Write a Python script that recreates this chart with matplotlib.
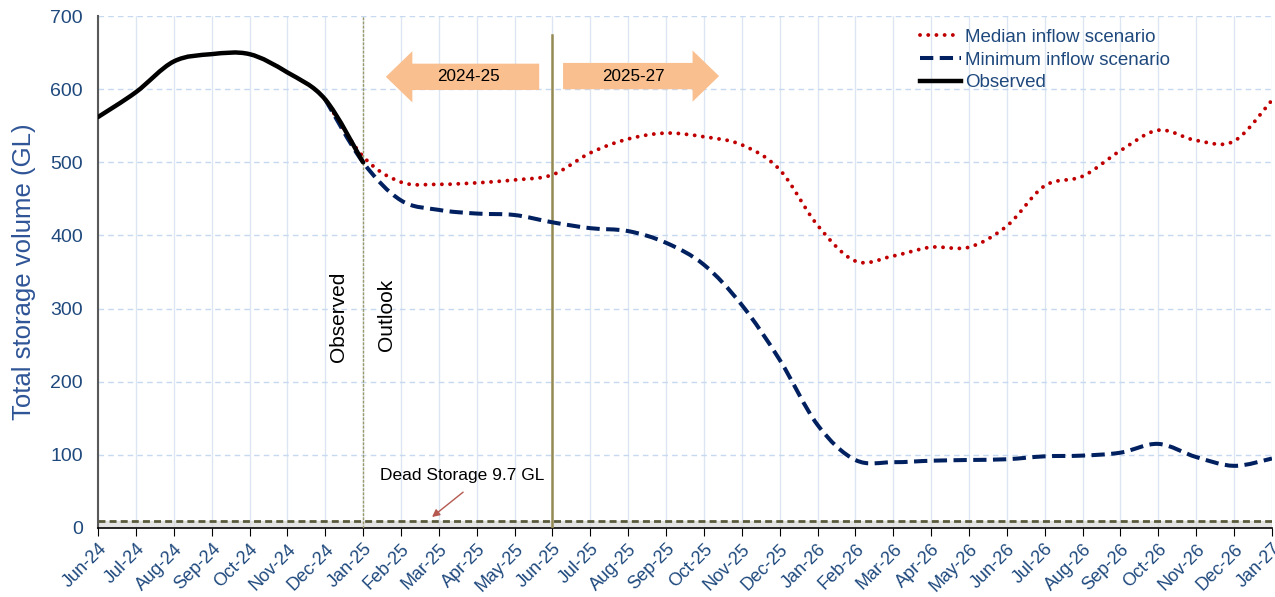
import numpy as np
import matplotlib.pyplot as plt
from matplotlib.patches import FancyArrow, PathPatch
from matplotlib.path import Path
from matplotlib.lines import Line2D

months = ['Jun-24', 'Jul-24', 'Aug-24', 'Sep-24', 'Oct-24', 'Nov-24', 'Dec-24', 'Jan-25',
          'Feb-25', 'Mar-25', 'Apr-25', 'May-25', 'Jun-25', 'Jul-25', 'Aug-25', 'Sep-25',
          'Oct-25', 'Nov-25', 'Dec-25', 'Jan-26', 'Feb-26', 'Mar-26', 'Apr-26', 'May-26',
          'Jun-26', 'Jul-26', 'Aug-26', 'Sep-26', 'Oct-26', 'Nov-26', 'Dec-26', 'Jan-27']

observed = [562, 596, 638, 648, 648, 623, 586, 500]

# outlook series start at Dec-24 (last observed month before outlook)
median = [586, 508, 473, 470, 472, 476, 483, 513, 532, 540, 535, 524, 490, 414, 365,
          372, 384, 384, 413, 468, 481, 516, 544, 530, 529, 585]
minimum = [586, 500, 448, 435, 430, 428, 418, 410, 406, 390, 360, 305, 230, 141, 93,
           90, 92, 93, 94, 98, 99, 103, 115, 97, 85, 95]

dead_storage = 9.7

label_blue = '#1F497D'
font = 'Liberation Sans'


def smooth_path(xs, ys):
    # excel style smoothed line: bezier segments through the points
    pts = np.column_stack([xs, ys]).astype(float)
    n = len(pts)
    verts = [pts[0]]
    codes = [Path.MOVETO]
    for i in range(n - 1):
        p0 = pts[i - 1] if i > 0 else pts[i]
        p1 = pts[i]
        p2 = pts[i + 1]
        p3 = pts[i + 2] if i + 2 < n else pts[i + 1]
        verts += [p1 + (p2 - p0) / 6, p2 - (p3 - p1) / 6, p2]
        codes += [Path.CURVE4] * 3
    return Path(verts, codes)


fig = plt.figure(figsize=(12.75, 5.97), dpi=100)
ax = fig.add_axes([0.0769, 0.1156, 0.9207, 0.8574])

x_all = np.arange(len(months))
x_obs = x_all[:len(observed)]
x_out = x_all[6:6 + len(median)]

ax.axhspan(0, dead_storage, color='#d9d9d9', alpha=0.7, zorder=1)
ax.axhline(dead_storage, color='#5a5a3c', linestyle=(0, (2.5, 1.5)), linewidth=2, zorder=2)

med_style = dict(color='#C00000', linestyle=(0, (0.01, 2.1)), linewidth=2.8)
min_style = dict(color='#002060', linestyle=(0, (3.3, 1.6)), linewidth=2.9)
obs_style = dict(color='black', linestyle='-', linewidth=3.2)

p = PathPatch(smooth_path(x_out, median), fill=False, zorder=4, capstyle='round',
              edgecolor=med_style['color'], linestyle=med_style['linestyle'],
              linewidth=med_style['linewidth'])
ax.add_patch(p)
p = PathPatch(smooth_path(x_out, minimum), fill=False, zorder=4, capstyle='butt',
              edgecolor=min_style['color'], linestyle=min_style['linestyle'],
              linewidth=min_style['linewidth'])
ax.add_patch(p)
p = PathPatch(smooth_path(x_obs, observed), fill=False, zorder=5, capstyle='round',
              edgecolor=obs_style['color'], linewidth=obs_style['linewidth'])
ax.add_patch(p)

ax.axvline(7, color='#9c9a6a', linestyle=(0, (2, 1)), linewidth=1, zorder=3)
ax.plot([12, 12], [0, 674], color='#948A54', linewidth=1.8, zorder=3)

ax.set_xlim(0, len(months) - 1)
ax.set_ylim(0, 700)
ax.set_xticks(x_all)
ax.set_xticklabels(months, rotation=45, ha='right', rotation_mode='anchor',
                   fontsize=13, color=label_blue, fontfamily=font)
ax.set_yticks(np.arange(0, 701, 100))
ax.set_yticklabels([str(v) for v in range(0, 701, 100)], fontsize=14,
                   color=label_blue, fontfamily=font)
ax.tick_params(axis='x', length=6, color='black', pad=3)
ax.tick_params(axis='y', length=0, pad=11)

ax.grid(axis='x', color='#dce6f2', linewidth=1)
ax.grid(axis='y', color='#c6d9f0', linestyle=(0, (4, 3)), linewidth=1)
ax.set_axisbelow(True)
for s in ['top', 'right']:
    ax.spines[s].set_visible(False)
ax.spines['left'].set_color('#595959')
ax.spines['left'].set_linewidth(1.5)
ax.spines['bottom'].set_color('black')
ax.spines['bottom'].set_linewidth(1.2)

ax.set_ylabel('Total storage volume (GL)', fontsize=18.5, color='#2F5597',
              fontfamily=font, labelpad=10)

ax.text(6.34, 289, 'Observed', rotation=90, ha='center', va='center', fontsize=15,
        fontfamily=font)
ax.text(7.63, 291, 'Outlook', rotation=90, ha='center', va='center', fontsize=15,
        fontfamily=font)

arrow_col = '#F9BF8F'
ax.add_patch(FancyArrow(11.65, 617, -4.05, 0, width=36, head_width=70, head_length=0.7,
                        length_includes_head=True, color=arrow_col, zorder=3, lw=0))
ax.add_patch(FancyArrow(12.28, 618, 4.12, 0, width=36, head_width=70, head_length=0.7,
                        length_includes_head=True, color=arrow_col, zorder=3, lw=0))
ax.text(9.77, 617, '2024-25', ha='center', va='center', fontsize=12.3,
        fontfamily=font, zorder=4)
ax.text(14.15, 618, '2025-27', ha='center', va='center', fontsize=12.3,
        fontfamily=font, zorder=4)

ax.text(7.45, 72, 'Dead Storage 9.7 GL', fontsize=12.5, fontfamily=font,
        ha='left', va='center')
ax.annotate('', xy=(8.82, 15), xytext=(9.64, 49),
            arrowprops=dict(arrowstyle='-|>', color='#b5584f', lw=1, mutation_scale=11,
                            shrinkA=0, shrinkB=0))

handles = [Line2D([], [], dash_capstyle='round', **med_style),
           Line2D([], [], **min_style),
           Line2D([], [], **obs_style)]
labels = ['Median inflow scenario', 'Minimum inflow scenario', 'Observed']
leg = ax.legend(handles, labels, loc='upper left', bbox_to_anchor=(0.6935, 0.99),
                frameon=False, handlelength=2.2, handletextpad=0.2, labelspacing=0.3,
                borderaxespad=0, prop={'family': font, 'size': 13.5})
for t in leg.get_texts():
    t.set_color(label_blue)

fig.savefig('out.png', dpi=100)
